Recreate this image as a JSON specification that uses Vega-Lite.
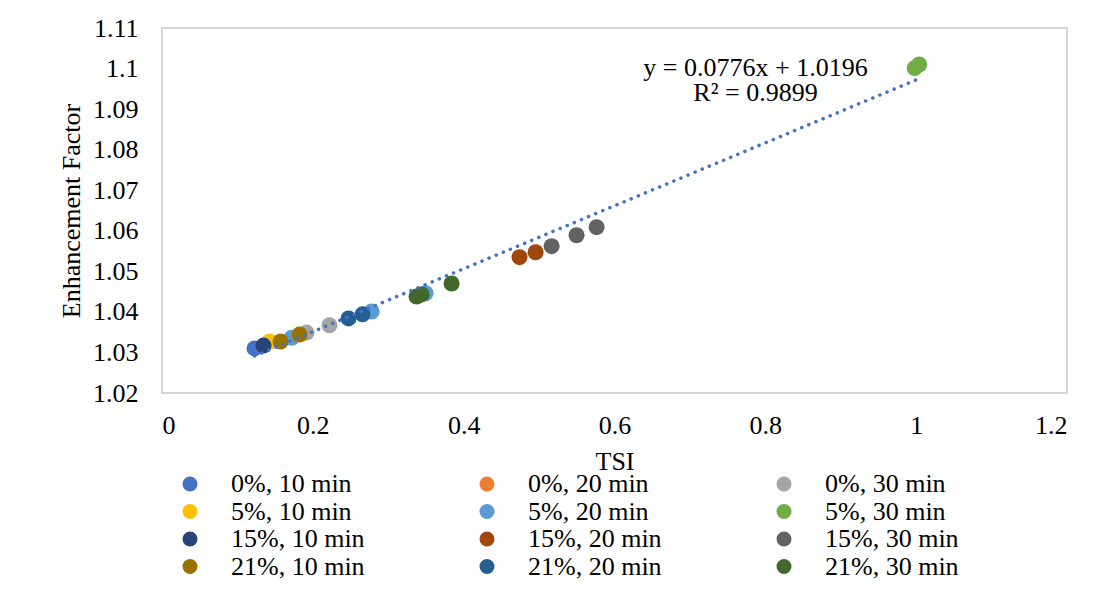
{
  "$schema": "https://vega.github.io/schema/vega-lite/v6.json",
  "width": 905,
  "height": 365,
  "autosize": {"type": "none"},
  "padding": {"left": 162, "top": 28, "right": 40, "bottom": 223},
  "background": "white",
  "config": {
    "font": "Liberation Serif",
    "view": {"stroke": "#C9C9C9", "strokeWidth": 1.5},
    "axis": {
      "grid": false,
      "ticks": false,
      "tickSize": 0,
      "domain": false,
      "labelFont": "Liberation Serif",
      "labelFontSize": 26,
      "labelColor": "#000000",
      "titleFont": "Liberation Serif",
      "titleFontSize": 26,
      "titleFontWeight": "normal",
      "titleColor": "#000000"
    }
  },
  "datasets": {
    "points": [
      {"series": "0%, 10 min", "TSI": 0.1227, "EF": 1.0310},
      {"series": "0%, 30 min", "TSI": 0.1916, "EF": 1.0349},
      {"series": "0%, 30 min", "TSI": 0.2221, "EF": 1.0367},
      {"series": "5%, 10 min", "TSI": 0.1426, "EF": 1.0327},
      {"series": "5%, 20 min", "TSI": 0.1718, "EF": 1.0336},
      {"series": "5%, 20 min", "TSI": 0.2779, "EF": 1.0401},
      {"series": "5%, 20 min", "TSI": 0.3495, "EF": 1.0446},
      {"series": "5%, 30 min", "TSI": 0.9980, "EF": 1.1001},
      {"series": "5%, 30 min", "TSI": 1.0040, "EF": 1.1010},
      {"series": "15%, 10 min", "TSI": 0.1346, "EF": 1.0317},
      {"series": "15%, 20 min", "TSI": 0.4741, "EF": 1.0535},
      {"series": "15%, 20 min", "TSI": 0.4954, "EF": 1.0547},
      {"series": "15%, 30 min", "TSI": 0.5166, "EF": 1.0562},
      {"series": "15%, 30 min", "TSI": 0.5497, "EF": 1.0589},
      {"series": "15%, 30 min", "TSI": 0.5763, "EF": 1.0609},
      {"series": "21%, 10 min", "TSI": 0.1572, "EF": 1.0327},
      {"series": "21%, 10 min", "TSI": 0.1824, "EF": 1.0344},
      {"series": "21%, 20 min", "TSI": 0.2473, "EF": 1.0384},
      {"series": "21%, 20 min", "TSI": 0.2659, "EF": 1.0394},
      {"series": "21%, 30 min", "TSI": 0.3375, "EF": 1.0438},
      {"series": "21%, 30 min", "TSI": 0.3442, "EF": 1.0443},
      {"series": "21%, 30 min", "TSI": 0.3840, "EF": 1.0470}
    ],
    "trend": [
      {"TSI": 0.1227, "EF": 1.02912},
      {"TSI": 1.0046, "EF": 1.09756}
    ],
    "notes": [
      {"TSI": 0.787, "EF": 1.1001, "label": "y = 0.0776x + 1.0196"},
      {"TSI": 0.787, "EF": 1.0940, "label": "R² = 0.9899"}
    ]
  },
  "layer": [
    {
      "data": {"name": "points"},
      "mark": {"type": "point", "shape": "circle", "filled": true, "opacity": 1, "size": 256, "strokeWidth": 0},
      "encoding": {
        "x": {
          "field": "TSI", "type": "quantitative", "title": "TSI",
          "scale": {"domain": [0, 1.2], "nice": false, "zero": false},
          "axis": {"values": [0, 0.2, 0.4, 0.6, 0.8, 1, 1.2], "format": ".1~f", "labelPadding": 19, "titlePadding": 10}
        },
        "y": {
          "field": "EF", "type": "quantitative", "title": "Enhancement Factor",
          "scale": {"domain": [1.02, 1.11], "nice": false, "zero": false},
          "axis": {"values": [1.02, 1.03, 1.04, 1.05, 1.06, 1.07, 1.08, 1.09, 1.1, 1.11], "format": ".2~f", "labelPadding": 24, "titlePadding": 8}
        },
        "color": {
          "field": "series", "type": "nominal",
          "scale": {
            "domain": ["0%, 10 min", "0%, 20 min", "0%, 30 min", "5%, 10 min", "5%, 20 min", "5%, 30 min", "15%, 10 min", "15%, 20 min", "15%, 30 min", "21%, 10 min", "21%, 20 min", "21%, 30 min"],
            "range": ["#4472C4", "#ED7D31", "#A5A5A5", "#FFC000", "#5B9BD5", "#70AD47", "#264478", "#9E480E", "#636363", "#997300", "#255E91", "#43682B"]
          },
          "legend": {
            "title": null,
            "orient": "none",
            "legendX": 15,
            "legendY": 443,
            "columns": 3,
            "direction": "horizontal",
            "gridAlign": "all",
            "columnPadding": 109,
            "rowPadding": 1.5,
            "padding": 0,
            "labelFont": "Liberation Serif",
            "labelFontSize": 26,
            "labelColor": "#000000",
            "labelOffset": 28,
            "labelLimit": 300,
            "symbolType": "circle",
            "symbolSize": 225,
            "symbolStrokeWidth": 0,
            "symbolOpacity": 1
          }
        }
      }
    },
    {
      "data": {"name": "trend"},
      "mark": {"type": "line", "color": "#4472C4", "strokeWidth": 3.5, "strokeDash": [0.1, 7.6], "strokeCap": "round"},
      "encoding": {
        "x": {"field": "TSI", "type": "quantitative"},
        "y": {"field": "EF", "type": "quantitative"}
      }
    },
    {
      "data": {"name": "notes"},
      "mark": {"type": "text", "font": "Liberation Serif", "fontSize": 26, "color": "#000000", "align": "center", "baseline": "middle"},
      "encoding": {
        "x": {"field": "TSI", "type": "quantitative"},
        "y": {"field": "EF", "type": "quantitative"},
        "text": {"field": "label", "type": "nominal"}
      }
    }
  ]
}
